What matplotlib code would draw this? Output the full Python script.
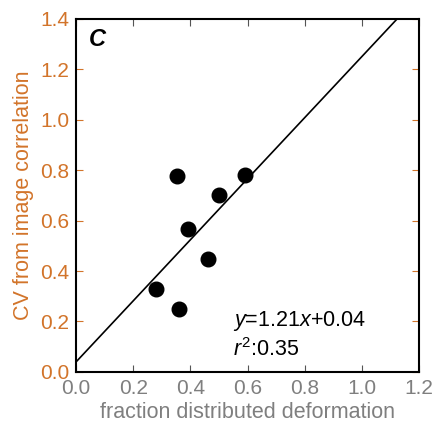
import matplotlib.pyplot as plt
import numpy as np

plt.rcParams["font.family"] = ["Liberation Sans", "DejaVu Sans"]
plt.rcParams["mathtext.fontset"] = "custom"
plt.rcParams["mathtext.it"] = "Liberation Sans:italic"
plt.rcParams["mathtext.rm"] = "Liberation Sans"

ORANGE = "#d2742a"
GREY = "#7f7f7f"

fraction_distributed = [0.28, 0.36, 0.353, 0.39, 0.46, 0.50, 0.59]
cv_image_corr = [0.33, 0.25, 0.775, 0.567, 0.448, 0.70, 0.78]
slope, intercept = 1.21, 0.04
r_squared = 0.35

xticks = [0.0, 0.2, 0.4, 0.6, 0.8, 1.0, 1.2]
yticks = [0.0, 0.2, 0.4, 0.6, 0.8, 1.0, 1.2, 1.4]

fig = plt.figure(figsize=(4.35, 4.28), dpi=100)
ax = fig.add_axes([0.175, 0.131, 0.788, 0.825])

ax.plot(fraction_distributed, cv_image_corr, "o", color="black", markersize=10.5)
x_fit = np.array([0.0, (1.4 - intercept) / slope])
ax.plot(x_fit, slope * x_fit + intercept, color="black", lw=1.2)

ax.set_xlim(0, 1.2)
ax.set_ylim(0, 1.4)
ax.set_xticks(xticks)
ax.set_yticks(yticks)
ax.set_xticklabels([f"{t:.1f}" for t in xticks])
ax.set_yticklabels([f"{t:.1f}" for t in yticks])
ax.tick_params(axis="x", direction="in", top=True, labelcolor=GREY, color="#555555",
               labelsize=15, length=5, pad=5)
ax.tick_params(axis="y", direction="in", right=True, colors=ORANGE, labelsize=15,
               length=5, pad=5)
for s in ax.spines.values():
    s.set_linewidth(1.5)
    s.set_color("black")

ax.set_xlabel("fraction distributed deformation", color=GREY, fontsize=15.5, labelpad=3)
ax.set_ylabel("CV from image correlation", color=ORANGE, fontsize=15.5, labelpad=4)

ax.text(0.045, 1.32, "C", fontsize=17, fontweight="bold", fontstyle="italic", va="center")
ax.text(0.55, 0.20, f"$y$={slope:.2f}$x$+{intercept:.2f}", fontsize=15.5, va="center")
ax.text(0.55, 0.09, f"$r^2$:{r_squared:.2f}", fontsize=15.5, va="center")

fig.savefig("out.png", dpi=100)
